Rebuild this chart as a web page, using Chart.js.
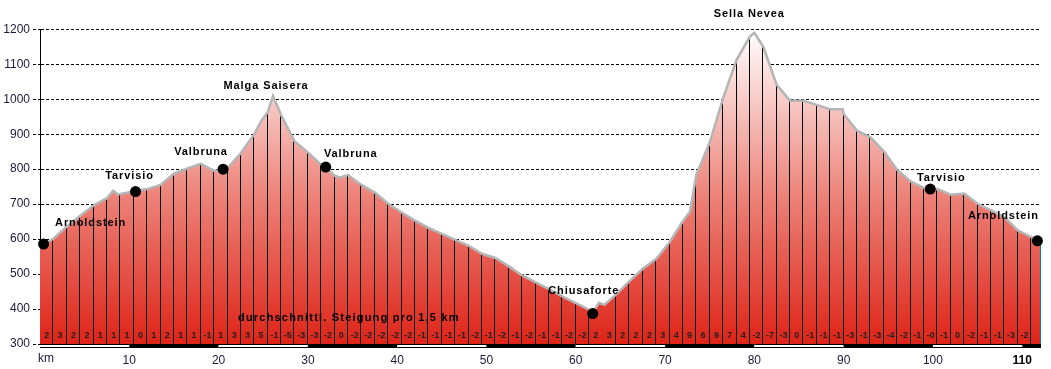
<!DOCTYPE html>
<html>
<head>
<meta charset="utf-8">
<script src="https://cdn.jsdelivr.net/npm/chart.js@4/dist/chart.umd.min.js"></script>
<style>
  html, body { margin: 0; padding: 0; background: #fff; }
  #wrap { width: 1051px; height: 369px; }
</style>
</head>
<body>
<div id="wrap"><canvas id="profile" width="1051" height="369"></canvas></div>
<script>
// Elevation profile Arnoldstein - Tarvisio - Sella Nevea - Chiusaforte - Arnoldstein

// profile points (km, m)
const profileKm = [
  0, 1.5, 3, 4.5, 6, 7.5, 8.2, 8.7, 9, 10.5, 12, 13.5, 15, 16.5, 18, 19.5, 20.5, 21,
  22.5, 24, 24.8, 25.5, 26.1, 27, 28.5, 30, 31.5, 32, 33, 33.6, 34.5, 36, 37.5, 39,
  40.5, 42, 43.5, 45, 46.5, 48, 49.5, 51, 52.5, 54, 55.5, 57, 58.5, 60, 61.5, 61.9,
  62.6, 63.2, 64.5, 66, 67.5, 69, 70.5, 72, 72.8, 73.5, 75, 76.5, 78, 79.5, 80, 81,
  82.5, 84, 85.5, 87, 88.5, 89.9, 90, 91.5, 93, 94.5, 96, 97.5, 99, 99.7, 100.5, 102,
  103.5, 105, 106.5, 108, 109.5, 111, 112.1
];
const profileElev = [
  578, 601, 636, 667, 696, 717, 738, 728, 729, 736, 743, 755, 787, 802, 815, 795, 798, 803,
  846, 900, 939, 963, 1010, 955, 880, 848, 812, 806, 781, 776, 783, 755, 733, 701,
  676, 653, 632, 615, 598, 581, 558, 546, 522, 496, 476, 457, 436, 417, 398, 389,
  418, 412, 441, 479, 515, 543, 591, 651, 679, 784, 876, 1003, 1112, 1179, 1190, 1150,
  1041, 996, 996, 984, 971, 971, 958, 910, 891, 851, 798, 765, 746, 742, 743, 727,
  730, 701, 682, 663, 625, 606, 595
];

// average gradient per 1,5 km segment
const gradeLabels = [
  '2', '3', '2', '2', '1', '1', '1', '0', '1', '2', '1', '1', '-1', '1', '3', '3', '5', '-1',
  '-5', '-3', '-3', '-2', '0', '-2', '-2', '-2', '-2', '-2', '-1', '-1', '-1', '-1', '-2', '-1',
  '-2', '-1', '-2', '-1', '-1', '-2', '-2', '2', '3', '2', '2', '2', '3', '4', '9', '6',
  '9', '7', '4', '-2', '-7', '-3', '0', '-1', '-1', '-1', '-3', '-1', '-3', '-4', '-2', '-1',
  '-0', '-1', '0', '-2', '-1', '-1', '-3', '-2'
];
const segmentKm = 1.5;

// places along the route
const placeNames = ['Arnoldstein', 'Tarvisio', 'Valbruna', 'Malga Saisera', 'Valbruna',
                    'Chiusaforte', 'Sella Nevea', 'Tarvisio', 'Arnoldstein'];
const placeKm    = [0.4, 10.7, 20.5, 26.1, 32.0, 61.9, 80.0, 99.7, 111.7];
const placeElev  = [586, 736, 800, 1010, 806, 387, 1190, 743, 595];
const placeDot   = [true, true, true, false, true, true, false, true, true];

// label placement relative to the place point (px)
const labelOffsets = [[47, -21], [-6, -16], [-22, -17], [-7, -10], [25, -13],
                      [-9, -23], [-5, -19], [11, -11], [-34, -25]];

const yTicks = [300, 400, 500, 600, 700, 800, 900, 1000, 1100, 1200];
const xTicks = [0, 10, 20, 30, 40, 50, 60, 70, 80, 90, 100, 110];

const LABEL_FONT = 'bold 11px "Liberation Sans", Arial, sans-serif';
const TICK_COLOR = '#1a1a3a';

function fillGradient(ctx) {
  const { chart } = ctx;
  const area = chart.chartArea;
  if (!area) return '#e05040';
  const g = chart.ctx.createLinearGradient(0, area.bottom, 0, area.top);
  g.addColorStop(0, 'rgb(222,36,24)');
  g.addColorStop(0.45, 'rgb(236,126,116)');
  g.addColorStop(1, 'rgb(255,255,255)');
  return g;
}

// vertical lines every 1,5 km, drawn after the fill
const stationLines = {
  id: 'stationLines',
  afterDatasetDraw(chart, args) {
    if (args.index !== 0) return;
    const x = chart.scales.x, y = chart.scales.y;
    const c = chart.ctx;
    c.save();
    c.lineWidth = 1;
    profileKm.forEach((k, i) => {
      const onStation = Math.abs(k / segmentKm - Math.round(k / segmentKm)) < 1e-6 && k > 0;
      const last = i === profileKm.length - 1;
      if (!onStation && !last) return;
      const px = Math.round(x.getPixelForValue(k)) - 0.5;
      c.strokeStyle = last ? '#00868a' : '#000';
      c.beginPath();
      c.moveTo(px, y.bottom);
      c.lineTo(px, y.getPixelForValue(profileElev[i]));
      c.stroke();
    });
    c.restore();
  }
};

const overlays = {
  id: 'overlays',
  afterDraw(chart) {
    const x = chart.scales.x, y = chart.scales.y;
    const c = chart.ctx;
    const area = chart.chartArea;
    c.save();

    // gradient numbers per segment
    c.font = 'bold 9px "Liberation Sans", Arial, sans-serif';
    c.fillStyle = '#222';
    c.textAlign = 'center';
    c.textBaseline = 'middle';
    gradeLabels.forEach((g, i) => {
      const px = x.getPixelForValue(i * segmentKm + segmentKm / 2);
      c.fillText(g, px, area.bottom - 8);
    });

    // km band along the bottom
    const bandTop = Math.round(area.bottom);
    for (let i = 0; i * 10 < x.max; i++) {
      const x0 = x.getPixelForValue(i * 10);
      const x1 = x.getPixelForValue(Math.min((i + 1) * 10, x.max));
      c.fillStyle = '#000';
      c.fillRect(x0, bandTop, x1 - x0, 4);
      if (i % 2 === 0) {
        c.fillStyle = '#fff';
        c.fillRect(x0, bandTop + 1, x1 - x0, 2);
      }
    }

    // km unit
    c.font = '12px "Liberation Sans", Arial, sans-serif';
    c.fillStyle = TICK_COLOR;
    c.textAlign = 'left';
    c.fillText('km', x.getPixelForValue(0) - 2, 359);

    // place labels
    c.font = LABEL_FONT;
    c.letterSpacing = '0.9px';
    c.fillStyle = '#000';
    c.textAlign = 'center';
    placeNames.forEach((name, i) => {
      const px = x.getPixelForValue(placeKm[i]) + labelOffsets[i][0];
      const py = y.getPixelForValue(placeElev[i]) + labelOffsets[i][1];
      c.fillText(name, px, py);
    });
    c.textAlign = 'left';
    c.letterSpacing = '1.2px';
    c.fillText('durchschnittl. Steigung pro 1,5 km', area.left + 198, area.bottom - 26);
    c.restore();
  }
};

new Chart(document.getElementById('profile'), {
  type: 'line',
  data: {
    datasets: [
      {
        data: profileKm.map((k, i) => ({ x: k, y: profileElev[i] })),
        fill: 'start',
        backgroundColor: fillGradient,
        borderWidth: 0,
        pointRadius: 0,
        tension: 0,
        order: 3
      },
      {
        data: profileKm.map((k, i) => ({ x: k, y: profileElev[i] })),
        fill: false,
        borderColor: '#b5b5b5',
        borderWidth: 2.5,
        pointRadius: 0,
        tension: 0,
        order: 2
      },
      {
        type: 'scatter',
        data: placeKm.map((k, i) => ({ x: k, y: placeElev[i] })).filter((p, i) => placeDot[i]),
        pointRadius: 5.5,
        pointBackgroundColor: '#000',
        pointBorderWidth: 0,
        clip: false,
        order: 1
      }
    ]
  },
  options: {
    responsive: false,
    animation: false,
    events: [],
    layout: { padding: { top: 29.3, right: 10, left: 0, bottom: 0 } },
    plugins: { legend: { display: false }, tooltip: { enabled: false } },
    scales: {
      x: {
        type: 'linear',
        min: 0,
        max: 112.1,
        afterFit: s => { s.height = 25; },
        afterBuildTicks: s => { s.ticks = xTicks.map(v => ({ value: v })); },
        grid: { display: false, drawTicks: false },
        border: { display: false },
        ticks: {
          padding: 9,
          autoSkip: false,
          maxRotation: 0,
          color: ctx => ctx.tick && ctx.tick.value === 110 ? '#000' : TICK_COLOR,
          font: ctx => ({
            family: '"Liberation Sans", Arial, sans-serif',
            size: 12,
            weight: ctx.tick && ctx.tick.value === 110 ? 'bold' : 'normal'
          }),
          callback: v => (v === 0 ? '' : String(v))
        }
      },
      y: {
        min: 300,
        max: 1200,
        z: 1,
        afterFit: s => { s.width = 40; },
        afterBuildTicks: s => { s.ticks = yTicks.map(v => ({ value: v })); },
        grid: {
          color: '#000',
          lineWidth: 1,
          tickLength: 7,
          tickBorderDash: [3, 2]
        },
        border: { display: true, color: '#000', width: 1, dash: [3, 2] },
        ticks: {
          padding: 3,
          color: TICK_COLOR,
          font: { family: '"Liberation Sans", Arial, sans-serif', size: 12 },
          callback: v => String(v)
        }
      }
    }
  },
  plugins: [stationLines, overlays]
});
</script>
</body>
</html>
